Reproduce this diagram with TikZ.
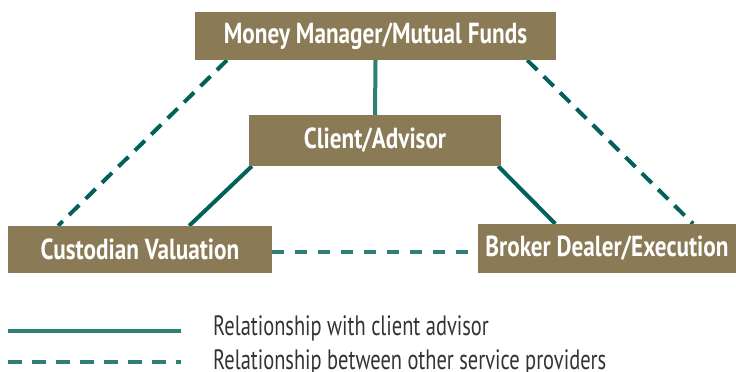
\documentclass[tikz,border=0pt]{standalone}
\usepackage{fontspec}
\setmainfont[FakeStretch=0.80]{PT Sans}
\newfontfamily\legendfont[FakeStretch=0.73]{PT Sans}
\usetikzlibrary{calc}
\definecolor{boxfill}{HTML}{8A7A55}
\definecolor{tealdark}{HTML}{00625A}
\definecolor{teallight}{HTML}{2F7F78}
\definecolor{txtgray}{HTML}{333333}
\tikzset{
  entity/.style={fill=boxfill, text=white, font=\bfseries\fontsize{29}{32}\selectfont, inner sep=0pt, anchor=center},
  solidlink/.style={draw=tealdark, line width=4pt},
  dashlink/.style={draw=tealdark, line width=4pt, dash pattern=on 14pt off 9pt},
  vlink/.style={draw=teallight, line width=4pt},
  hdash/.style={draw=teallight, line width=4pt, dash pattern=on 12pt off 11pt},
  legsolid/.style={draw=teallight, line width=4pt},
  legdash/.style={draw=teallight, line width=4pt, dash pattern=on 14pt off 10pt},
  legtext/.style={text=txtgray, font=\legendfont\fontsize{28}{30}\selectfont, anchor=base west, inner sep=0pt}
}
\begin{document}
\begin{tikzpicture}[x=1pt,y=1pt]
\useasboundingbox (0,0) rectangle (736,372);
\node[entity, minimum width=361pt, minimum height=48pt] (mm) at (375.5,336) {Money Manager/Mutual Funds};
\node[entity, minimum width=252pt, minimum height=51pt] (ca) at (375,231.5) {Client/Advisor};
\node[entity, minimum width=264pt, minimum height=47pt] (cv) at (140,122.5) {Custodian Valuation};
\node[entity, minimum width=258pt, minimum height=49pt] (bd) at (607,123.5) {Broker Dealer/Execution};
\coordinate (mmL) at ($(mm.south west)!0.089!(mm.south east)$);
\coordinate (mmR) at ($(mm.south west)!0.92!(mm.south east)$);
\coordinate (cvT) at ($(cv.north west)!0.19!(cv.north east)$);
\coordinate (bdT) at ($(bd.north west)!0.833!(bd.north east)$);
\coordinate (caL) at ($(ca.south west)!0.012!(ca.south east)$);
\coordinate (caR) at ($(ca.south west)!0.988!(ca.south east)$);
\coordinate (cvS) at ($(cv.north west)!0.686!(cv.north east)$);
\coordinate (bdS) at ($(bd.north west)!0.30!(bd.north east)$);
\coordinate (cvE) at ($(cv.south east)!0.5!(cv.north east)+(0,-2.5)$);
\coordinate (bdW) at (cvE -| bd.west);
% links
\draw[dashlink] (mmL) -- (cvT);
\draw[dashlink] (mmR) -- (bdT);
\draw[solidlink] (caL) -- (cvS);
\draw[solidlink] (caR) -- (bdS);
\draw[vlink] (mm.south) -- (ca.north);
\draw[hdash] (cvE) -- (bdW);
% boxes over link ends
\node[entity, minimum width=361pt, minimum height=48pt] at (mm) {Money Manager/Mutual Funds};
\node[entity, minimum width=252pt, minimum height=51pt] at (ca) {Client/Advisor};
\node[entity, minimum width=264pt, minimum height=47pt] at (cv) {Custodian Valuation};
\node[entity, minimum width=258pt, minimum height=49pt] at (bd) {Broker Dealer/Execution};
% legend
\coordinate (l1a) at (8,41);
\coordinate (l1b) at (181,41);
\coordinate (l2a) at (8,10);
\coordinate (l2b) at (181,10);
\draw[legsolid] (l1a) -- (l1b);
\draw[legdash] (l2a) -- (l2b);
\node[legtext] (t1) at (213,36) {Relationship with client advisor};
\node[legtext] (t2) at (213,2.5) {Relationship between other service providers};
\end{tikzpicture}
\end{document}
